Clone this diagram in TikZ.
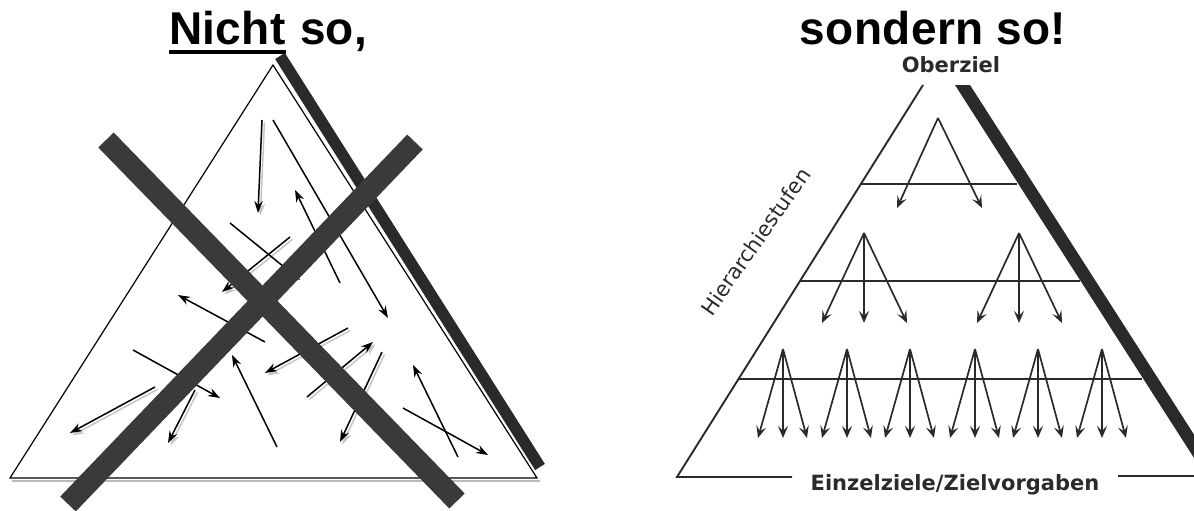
\documentclass[tikz,border=0pt]{standalone}
\usepackage{fontspec}
\setmainfont{DejaVu Sans}
\newfontfamily\titlefont[LetterSpace=0.8]{Liberation Sans}
\usetikzlibrary{arrows.meta}
\definecolor{bardark}{HTML}{3A3A3A}
\definecolor{inkgray}{HTML}{2A2A2A}
\begin{document}
\begin{tikzpicture}[x=1pt,y=-1pt,
  tri/.style={draw=black, line width=1.2pt},
  bar/.style={draw=bardark, line width=21.5pt, line cap=butt},
  shade/.style={draw=inkgray, line width=11.5pt, line cap=butt},
  arrl/.style={draw=black, line width=1.5pt, -{Stealth[length=12pt,width=8.5pt,inset=4pt]}},
  arrsh/.style={draw=gray!45, line width=1.5pt, -{Stealth[length=12pt,width=8.5pt,inset=4pt]}},
  pyr/.style={draw=inkgray, line width=1.9pt},
  parr/.style={draw=inkgray, line width=1.7pt, -{Stealth[length=12pt,width=10pt,inset=5pt]}},
  title/.style={font=\titlefont\bfseries\fontsize{46}{52}\selectfont, inner sep=0pt, text=black},
  lab/.style={font=\bfseries\fontsize{21}{25}\selectfont, inner sep=0pt, text=inkgray}
]
\useasboundingbox (0,0) rectangle (1194,511);
\clip (0,0) rectangle (1194,511);

% ---------- titles ----------
\node[title, anchor=base west] (nicht) at (169,45) {Nicht};
\node[title, anchor=base west] (so) at ([xshift=14pt]nicht.base east) {so,};
\fill ([yshift=-5pt]nicht.base west) rectangle ([yshift=-9pt]nicht.base east);
\node[title, anchor=base] (sondern) at (933,45) {sondern so!};

% ---------- left triangle ----------
\draw[shade] (280,56) -- (540,467);
\draw[gray!55, line width=1.6pt] (12,481) -- (540,481);
\filldraw[fill=white, tri] (273,65) -- (10,478) -- (537,478) -- cycle;

% double arrows (with grey shadow)
\foreach \a/\b in {{(262,120)}/{(258,213)}, {(290,237)}/{(222,292)}, {(155,387)}/{(70,433)},
                   {(195,390)}/{(168,443)}, {(348,328)}/{(265,373)}, {(307,397)}/{(373,342)},
                   {(382,352)}/{(340,442)}}{
  \draw[arrsh, shift={(2.4,2.4)}] \a -- \b;
  \draw[arrl] \a -- \b;
}
% single arrows
\draw[arrl] (273,120) -- (388,318);
\draw[arrl] (230,223) -- (300,280);
\draw[arrl] (340,283) -- (295,190);
\draw[arrl] (265,342) -- (178,295);
\draw[arrl] (133,350) -- (220,398);
\draw[arrl] (277,447) -- (232,355);
\draw[arrl] (458,457) -- (413,365);
\draw[arrl] (403,408) -- (488,455);

% big cross
\draw[bar] (106,140) -- (457,501);
\draw[bar] (68,504) -- (415,142);

% ---------- right pyramid ----------
\node[lab, anchor=base] (ober) at (951,73) {Oberziel};
\node[lab, anchor=base] (einzel) at (955,490) {Einzelziele/Zielvorgaben};
\node[font=\fontsize{21}{25}\selectfont, text=inkgray, inner sep=0pt, anchor=base, rotate=55] (hier) at (762,246) {Hierarchiestufen};

\fill[inkgray] (955,85) -- (970,85) -- (1243,511) -- (1228,511) -- cycle;
\draw[pyr] (923,85) -- (677,477) -- (792,477);
\draw[pyr] (1118,476) -- (1194,476);
\draw[pyr] (861,184) -- (1017,184);
\draw[pyr] (800,281) -- (1080,281);
\draw[pyr] (738,379) -- (1142,379);

% level 1
\coordinate (g0) at (938,118);
\draw[parr] (g0) -- ++(-41,90);
\draw[parr] (g0) -- ++(44,90);
% level 2
\foreach \x [count=\i] in {864,1019}{
  \coordinate (h\i) at (\x,233);
  \draw[parr] (h\i) -- ++(-42,90);
  \draw[parr] (h\i) -- ++(0,90);
  \draw[parr] (h\i) -- ++(43,90);
}
% level 3
\foreach \x [count=\i] in {783,847,910,975,1038,1102}{
  \coordinate (k\i) at (\x,349);
  \draw[parr] (k\i) -- ++(-25,89);
  \draw[parr] (k\i) -- ++(0,89);
  \draw[parr] (k\i) -- ++(24,89);
}
\end{tikzpicture}
\end{document}
